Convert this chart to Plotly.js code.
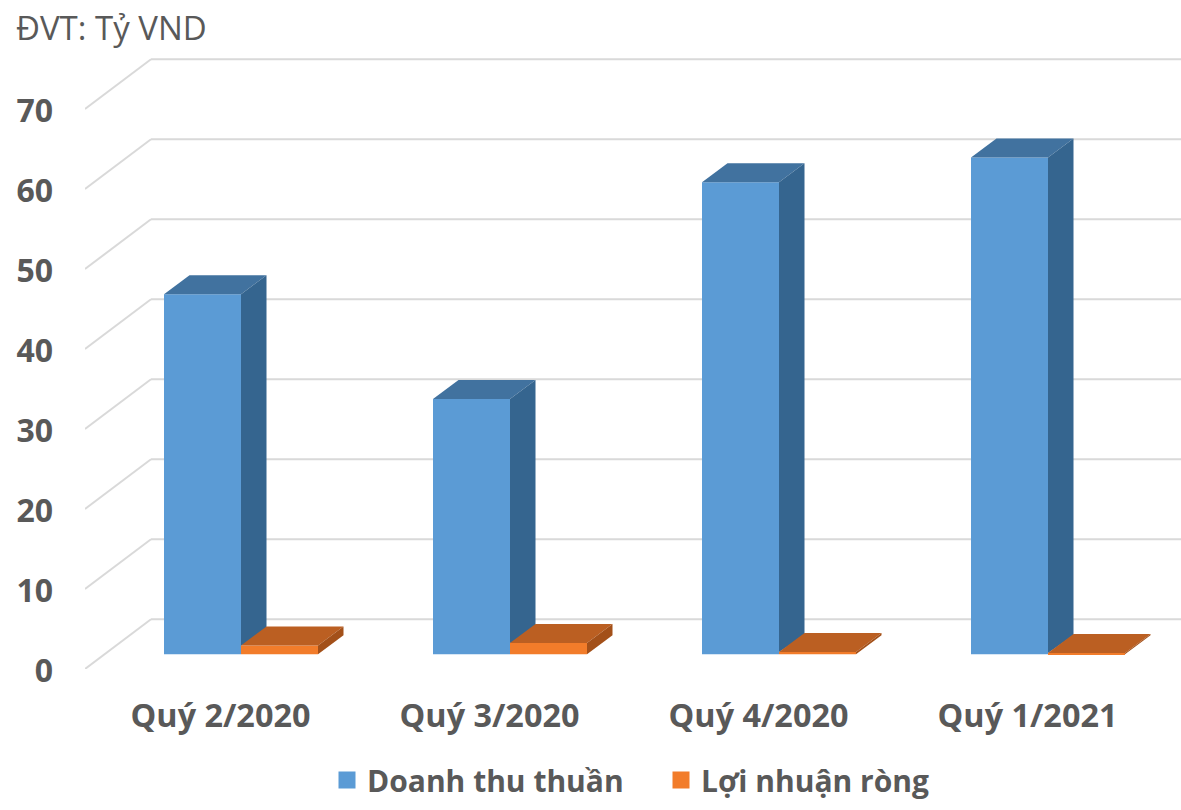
<!DOCTYPE html>
<html>
<head>
<meta charset="utf-8">
<script src="https://cdn.plot.ly/plotly-3.0.1.min.js"></script>
<style>html,body{margin:0;padding:0;background:#fff;overflow:hidden}</style>
</head>
<body>
<div id="chart" style="width:1181px;height:810px"></div>
<script>
var categories = ["Quý 2/2020", "Quý 3/2020", "Quý 4/2020", "Quý 1/2021"];
var revenue = [45.0, 31.9, 59.0, 62.1];
var profit = [1.1, 1.4, 0.3, 0.15];
var yTicks = [0, 10, 20, 30, 40, 50, 60, 70];
var seriesNames = ["Doanh thu thuần", "Lợi nhuận ròng"];
var unitLabel = "ĐVT: Tỷ VND";

var GREY = "#595959", FONT = "'Open Sans', sans-serif";
var W = 1181, H = 810, L = 85, T = 30, FRONT0 = 669;
var pxX = 269, pxY = 8;                 // px per category / per unit
var barW = 77 / pxX, barX = -55.5 / pxX, barY = 14.7 / pxY;   // bar plane offset
var depX = 25.5 / pxX, depY = 19 / pxY; // bar depth
var wallX = 66 / pxX, wallY = 49.7 / pxY; // wall depth
var xMin = -0.5, xMax = xMin + (W - L) / pxX, yMax = (FRONT0 - T) / pxY;
var idx = categories.map(function (_, i) { return i; });

function poly(xs, ys, color) {
  return { type: "scatter", mode: "lines", x: xs.concat(xs[0]), y: ys.concat(ys[0]), fill: "toself",
    fillcolor: color, line: { width: 0, color: color }, showlegend: false, hoverinfo: "skip" };
}
function front(vals, offset, color, name) {
  return { type: "bar", x: idx.map(function (i) { return i + barX + offset + barW / 2; }), y: vals,
    base: vals.map(function () { return barY; }), width: vals.map(function () { return barW; }),
    marker: { color: color, line: { width: 0 } }, name: name, showlegend: false };
}
function legendKey(color, name) {
  return { type: "bar", x: [null], y: [null], marker: { color: color, line: { width: 5, color: color } },
    name: name, showlegend: true, hoverinfo: "skip" };
}

var traces = [front(revenue, 0, "#5B9BD5", seriesNames[0]), front(profit, barW, "#F27C2A", seriesNames[1])];
idx.forEach(function (i) {
  var x0 = i + barX, x1 = x0 + barW, x2 = x1 + barW, t = barY + revenue[i], p = barY + profit[i];
  // blue roof and side; the side stops at the orange bar, which stands in front of it
  traces.push(poly([x0, x1, x1 + depX, x0 + depX], [t, t, t + depY, t + depY], "#41729F"));
  traces.push(poly([x1, x1 + depX, x1 + depX, x1], [t, t + depY, barY + depY, p], "#35658F"));
  traces.push(poly([x1, x2, x2 + depX, x1 + depX], [p, p, p + depY, p + depY], "#BB5F22"));
  traces.push(poly([x2, x2 + depX, x2 + depX, x2], [barY, barY + depY, p + depY, p], "#A35019"));
});
traces.push(legendKey("#5B9BD5", seriesNames[0]), legendKey("#F27C2A", seriesNames[1]));

var grid = [];
yTicks.forEach(function (v) {
  var line = { color: "#D9D9D9", width: 2 };
  grid.push({ type: "line", layer: "below", xref: "x", yref: "y", x0: xMin, y0: v, x1: xMin + wallX, y1: v + wallY, line: line });
  grid.push({ type: "line", layer: "below", xref: "x", yref: "y", x0: xMin + wallX, y0: v + wallY, x1: xMax, y1: v + wallY, line: line });
});

var layout = {
  width: W, height: H, paper_bgcolor: "#fff", plot_bgcolor: "#fff", barmode: "overlay",
  margin: { l: L, r: 0, t: T, b: H - FRONT0, pad: 0 },
  title: { text: unitLabel, x: 16 / W, xanchor: "left", xref: "container", y: 1 - 28 / H, yanchor: "middle",
    font: { family: FONT, size: 33, color: GREY } },
  xaxis: { type: "linear", range: [xMin, xMax], tickmode: "array", tickvals: idx, ticktext: categories,
    showgrid: false, zeroline: false, showline: false, ticks: "", ticklabelstandoff: 25, ticklabelshift: 1,
    tickfont: { family: FONT, size: 32.4, color: GREY, weight: 700 } },
  yaxis: { type: "linear", range: [0, yMax], tickmode: "array", tickvals: yTicks, ticktext: yTicks.map(String),
    showgrid: false, zeroline: false, showline: false, ticks: "", ticklabelstandoff: 31, ticklabelshift: 2,
    tickfont: { family: FONT, size: 32, color: GREY, weight: 700 } },
  shapes: grid,
  showlegend: true,
  legend: { orientation: "h", x: (327 - L) / (W - L), xanchor: "left", y: 1 - (780 - T) / (FRONT0 - T), yanchor: "middle",
    font: { family: FONT, size: 30, color: GREY, weight: 700 }, bgcolor: "rgba(0,0,0,0)", traceorder: "normal",
    entrywidth: 289, entrywidthmode: "pixels", itemclick: false, itemdoubleclick: false }
};
Plotly.newPlot("chart", traces, layout, { displayModeBar: false, responsive: false });
</script>
</body>
</html>
